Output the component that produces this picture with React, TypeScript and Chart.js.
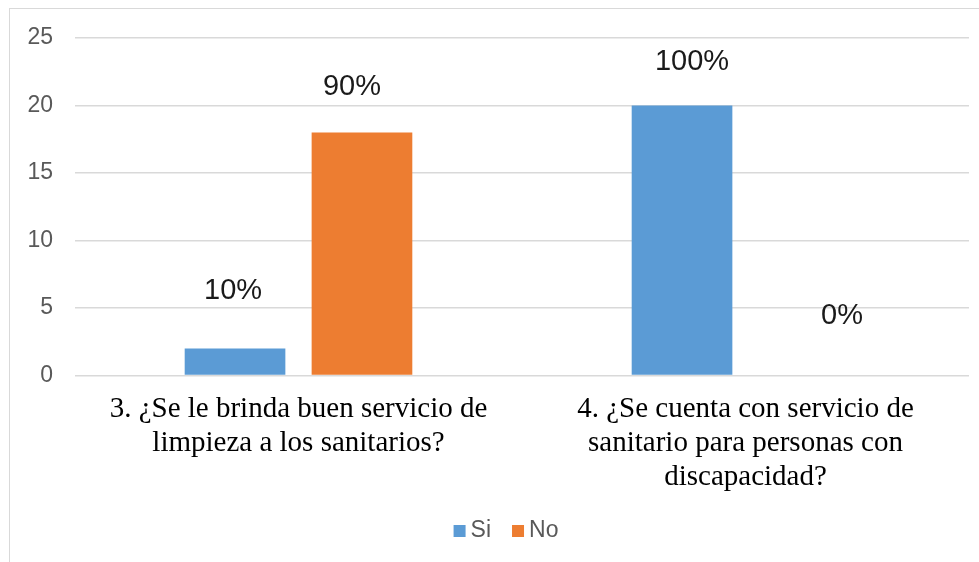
import React, { useEffect, useRef } from "react";
import { Chart, registerables } from "chart.js";

Chart.register(...registerables);

// ---- data ----
const categories: string[][] = [
  ["3. ¿Se le brinda buen servicio de", "limpieza a los sanitarios?"],
  ["4. ¿Se cuenta con servicio de", "sanitario para personas con", "discapacidad?"],
];
const seriesNames = ["Si", "No"];
const siValues = [2, 20];
const noValues = [18, 0];
const siLabels = ["10%", "100%"];
const noLabels = ["90%", "0%"];
const yMin = 0;
const yMax = 25;
const yStep = 5;

// ---- styles ----
const SI_COLOR = "#5B9BD5";
const NO_COLOR = "#ED7D31";
const SANS = "'Liberation Sans', Arial, Helvetica, sans-serif";
const SERIF = "'Liberation Serif', 'Times New Roman', serif";
// label offsets relative to bar top-centre (dataset x category)
const labelOffsets = [
  [{ dx: -2, dy: -58 }, { dx: 10, dy: -44 }],
  [{ dx: -10, dy: -45.5 }, { dx: 33, dy: -60 }],
];

const pctLabelPlugin = {
  id: "pctLabels",
  afterDatasetsDraw(chart: any, _args: any, opts: any) {
    const ctx = chart.ctx;
    ctx.save();
    ctx.font = `29px ${SANS}`;
    ctx.fillStyle = "#1a1a1a";
    ctx.textAlign = "center";
    ctx.textBaseline = "middle";
    chart.data.datasets.forEach((ds: any, di: number) => {
      const meta = chart.getDatasetMeta(di);
      meta.data.forEach((bar: any, i: number) => {
        const off = opts.offsets[di][i];
        ctx.fillText(ds.pctLabels[i], bar.x + off.dx, bar.y + off.dy);
      });
    });
    ctx.restore();
  },
};

// Excel-style legend: small square, short gap, centred on the whole chart box
const excelLegendPlugin = {
  id: "excelLegend",
  afterDraw(chart: any, _args: any, opts: any) {
    const ctx = chart.ctx;
    ctx.save();
    ctx.font = `23px ${SANS}`;
    const items = chart.data.datasets.map((ds: any) => ({
      text: ds.label,
      color: ds.backgroundColor,
      w: ctx.measureText(ds.label).width,
    }));
    const total =
      items.reduce((s: number, it: any) => s + opts.box + opts.boxGap + it.w, 0) +
      opts.itemGap * (items.length - 1);
    let x = chart.width / 2 - total / 2;
    const cy = chart.height - opts.bottom;
    ctx.textBaseline = "middle";
    ctx.textAlign = "left";
    items.forEach((it: any) => {
      ctx.fillStyle = it.color;
      ctx.fillRect(x, cy - opts.box / 2, opts.box, opts.box);
      x += opts.box + opts.boxGap;
      ctx.fillStyle = "#595959";
      ctx.fillText(it.text, x, cy);
      x += it.w + opts.itemGap;
    });
    ctx.restore();
  },
};

export default function App() {
  const canvasRef = useRef<HTMLCanvasElement | null>(null);

  useEffect(() => {
    if (!canvasRef.current) return;
    const chart = new Chart(canvasRef.current, {
      type: "bar",
      data: {
        labels: categories,
        datasets: [
          {
            label: seriesNames[0],
            data: siValues,
            backgroundColor: SI_COLOR,
            categoryPercentage: 0.568,
            barPercentage: 0.793,
            pctLabels: siLabels,
          } as any,
          {
            label: seriesNames[1],
            data: noValues,
            backgroundColor: NO_COLOR,
            categoryPercentage: 0.568,
            barPercentage: 0.793,
            pctLabels: noLabels,
          } as any,
        ],
      },
      options: {
        animation: false,
        responsive: false,
        layout: { padding: { left: 0, right: 33, top: 29, bottom: 64.5 } },
        scales: {
          x: {
            grid: { display: false, drawTicks: false },
            border: { display: false },
            ticks: {
              color: "#000000",
              font: { family: SERIF, size: 29, lineHeight: 1.16 },
              padding: 17.5,
              maxRotation: 0,
              minRotation: 0,
              autoSkip: false,
            },
            afterFit: (s: any) => {
              s.height = 122;
              s.paddingLeft = 0;
              s.paddingRight = 0;
            },
          },
          y: {
            min: yMin,
            max: yMax,
            ticks: {
              stepSize: yStep,
              color: "#595959",
              font: { family: SANS, size: 23 },
              padding: 22,
            },
            grid: { color: "#d9d9d9", lineWidth: 1.5, drawTicks: false },
            border: { display: false },
            afterFit: (s: any) => {
              s.width = 65;
              s.paddingTop = 0;
              s.paddingBottom = 0;
            },
          },
        },
        plugins: {
          legend: { display: false },
          tooltip: { enabled: false },
          pctLabels: { offsets: labelOffsets },
          excelLegend: { box: 12, boxGap: 5, itemGap: 21, bottom: 31 },
        } as any,
      },
      plugins: [pctLabelPlugin, excelLegendPlugin],
    });
    return () => chart.destroy();
  }, []);

  return (
    <div
      style={{
        position: "fixed",
        left: 9,
        top: 8,
        width: 1010,
        height: 600,
        border: "1px solid #d9d9d9",
        background: "#ffffff",
      }}
    >
      <canvas ref={canvasRef} width={992} height={553} style={{ display: "block" }} />
    </div>
  );
}
